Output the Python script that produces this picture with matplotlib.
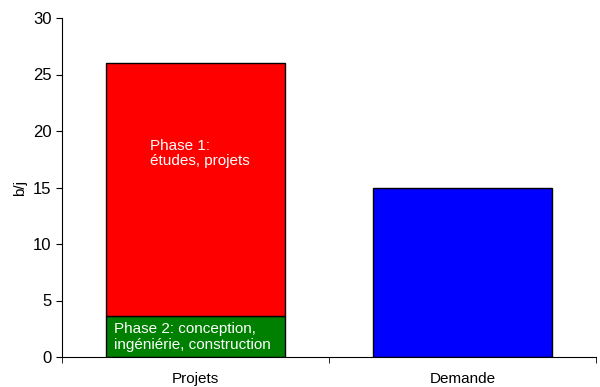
import matplotlib.pyplot as plt
from matplotlib.ticker import FixedLocator

plt.rcParams['font.family'] = ['Liberation Sans', 'DejaVu Sans']

categories = ['Projets', 'Demande']
phase2 = [3.6, 0]      # conception, ingéniérie, construction
phase1 = [22.4, 0]     # études, projets (stacked on phase 2)
demande = [0, 15.0]

fig = plt.figure(figsize=(6, 3.87), dpi=100)
ax = fig.add_axes([62/600, 1 - 357/387, 534/600, 339/387])

x = [0, 1]
w = 0.67
ax.bar(x[0], phase2[0], width=w, color='#008000', edgecolor='black', linewidth=1)
ax.bar(x[0], phase1[0], bottom=phase2[0], width=w, color='#ff0000', edgecolor='black', linewidth=1)
ax.bar(x[1], demande[1], width=w, color='#0000ff', edgecolor='black', linewidth=1)

ax.text(-0.17, 18.0, 'Phase 1:\nétudes, projets', color='white', fontsize=11,
        ha='left', va='center', linespacing=1.15)
ax.text(-0.305, 1.75, 'Phase 2: conception,\ningéniérie, construction', color='white',
        fontsize=11, ha='left', va='center', linespacing=1.15)

ax.set_xlim(-0.5, 1.5)
ax.set_ylim(0, 30)
ax.set_yticks(range(0, 31, 5))
ax.set_xticks(x)
ax.set_xticklabels(categories, fontsize=11)
ax.xaxis.set_minor_locator(FixedLocator([-0.5, 0.5, 1.5]))
ax.tick_params(axis='x', which='major', length=0, pad=11)
ax.tick_params(axis='x', which='minor', length=4, direction='out')
ax.tick_params(axis='y', labelsize=12, length=4, direction='out')
ax.set_ylabel('b/j', fontsize=11, labelpad=4)

for s in ['top', 'right']:
    ax.spines[s].set_visible(False)
ax.spines['left'].set_linewidth(0.8)
ax.spines['bottom'].set_linewidth(0.8)

fig.savefig('out.png', dpi=100)
